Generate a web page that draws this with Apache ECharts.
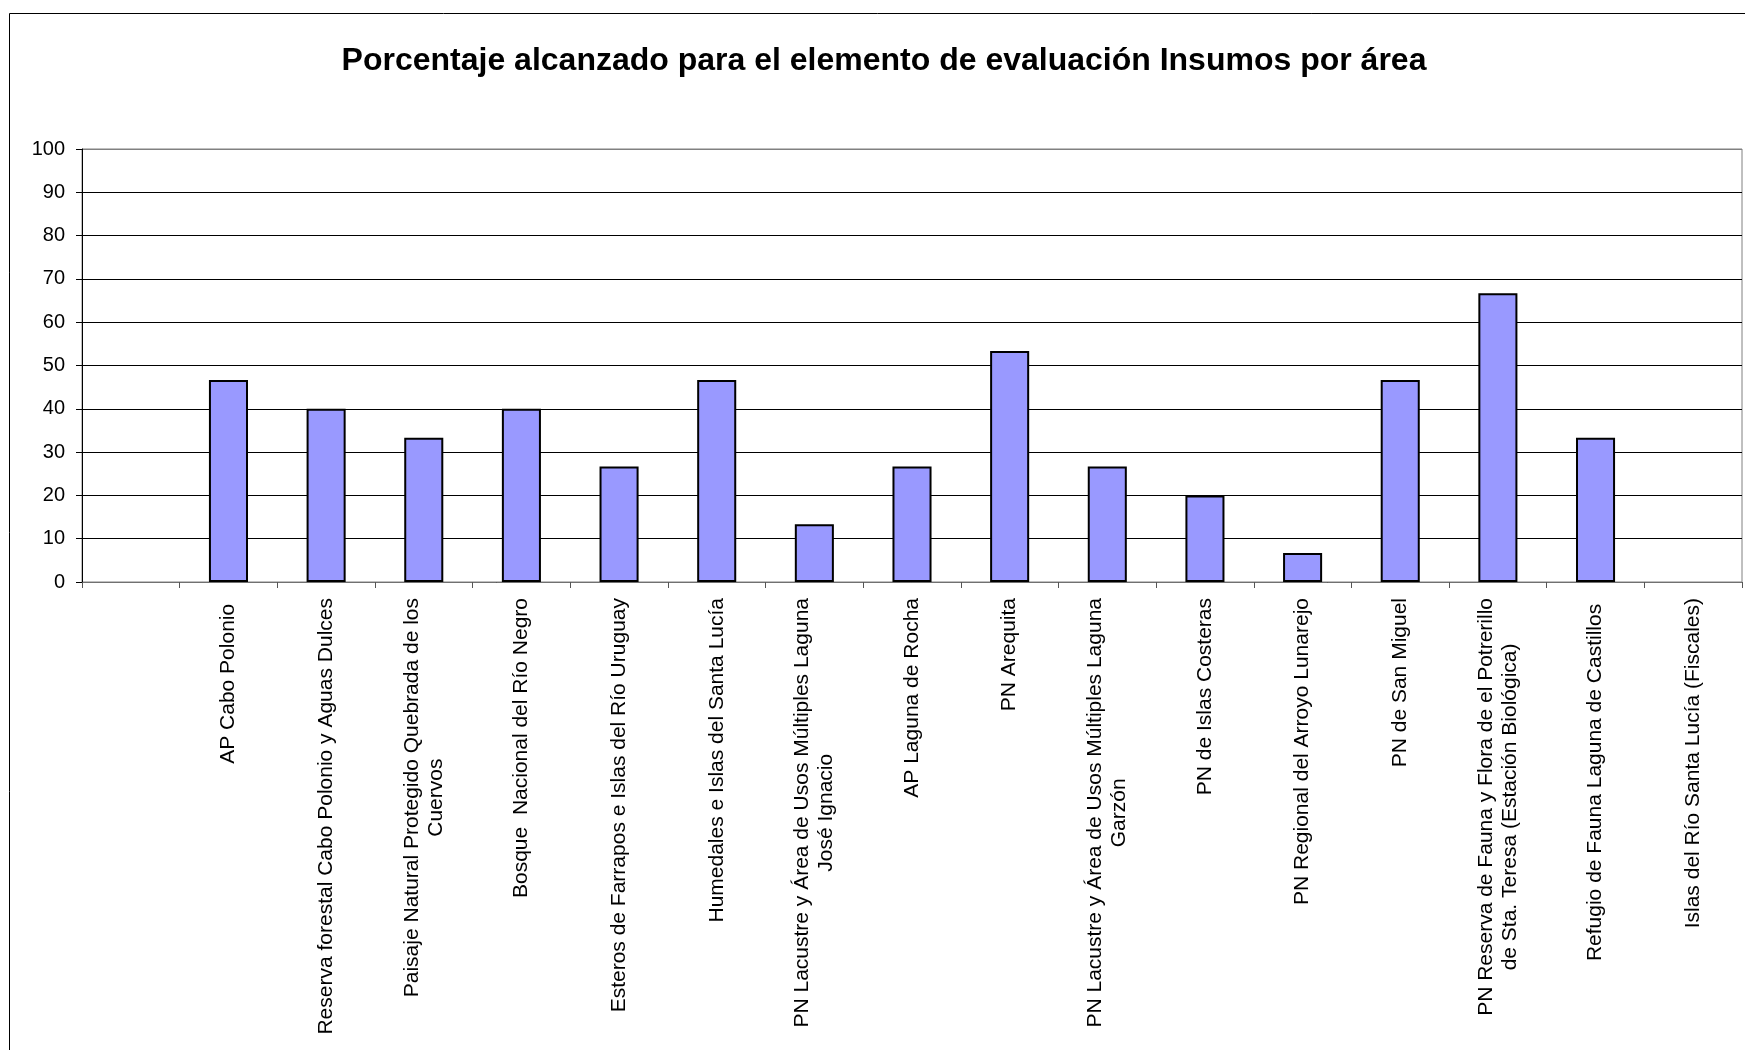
<!DOCTYPE html>
<html>
<head>
<meta charset="utf-8">
<script src="https://cdn.jsdelivr.net/npm/echarts@6/dist/echarts.min.js"></script>
<style>
  html, body { margin: 0; padding: 0; background: #fff; }
  #chart { width: 1745px; height: 1050px; }
</style>
</head>
<body>
<div id="chart"></div>
<script>
// categorías (la primera está vacía en el original)
const categories = [
  '',
  'AP Cabo Polonio ',
  'Reserva forestal Cabo Polonio y Aguas Dulces',
  'Paisaje Natural Protegido Quebrada de los\nCuervos',
  'Bosque  Nacional del Río Negro',
  'Esteros de Farrapos e Islas del Río Uruguay',
  'Humedales e Islas del Santa Lucía',
  'PN Lacustre y Área de Usos Múltiples Laguna\nJosé Ignacio',
  'AP Laguna de Rocha',
  'PN Arequita',
  'PN Lacustre y Área de Usos Múltiples Laguna\nGarzón',
  'PN de Islas Costeras',
  'PN Regional del Arroyo Lunarejo',
  'PN de San Miguel',
  'PN Reserva de Fauna y Flora de el Potrerillo\nde Sta. Teresa (Estación Biológica)',
  'Refugio de Fauna Laguna de Castillos ',
  'Islas del Río Santa Lucía (Fiscales)'
]

// porcentaje alcanzado
const values = [null, 46.67, 40, 33.33, 40, 26.67, 46.67, 13.33, 26.67, 53.33, 26.67, 20, 6.67, 46.67, 66.67, 33.33, 0]

const yTicks = { min: 0, max: 100, interval: 10 }

const titleText = 'Porcentaje alcanzado para el elemento de evaluación Insumos por área'
const font = '"Liberation Sans", Arial, sans-serif'

const chart = echarts.init(document.getElementById('chart'))

// colores de las líneas de división: la de 100 es el borde gris del área
const splitColors = []
for (let v = yTicks.min; v <= yTicks.max; v += yTicks.interval) {
  splitColors.push(v === yTicks.max ? '#808080' : '#000')
}

// una barra en cero no se dibuja en el original (sin borde)
const barData = values.map(v => v === 0 ? { value: v, itemStyle: { borderWidth: 0 } } : v)

const option = {
  animation: false,
  backgroundColor: '#fff',
  title: {
    text: titleText,
    left: 884,
    textAlign: 'center',
    top: 45,
    padding: 0,
    textStyle: {
      fontFamily: font,
      fontSize: 32,
      fontWeight: 'bold',
      color: '#000'
    }
  },
  graphic: [{
    type: 'rect',
    left: 7,
    top: 11,
    shape: { width: 1800, height: 1100 },
    style: { fill: 'none', stroke: '#000', lineWidth: 1 },
    silent: true
  }],
  grid: {
    left: 82,
    right: 3,
    top: 149,
    bottom: 468,
    show: true,
    borderColor: '#808080',
    borderWidth: 1,
    backgroundColor: 'transparent'
  },
  xAxis: {
    type: 'category',
    data: categories,
    axisLine: { lineStyle: { color: '#707070', width: 1 } },
    axisTick: { show: true, length: 6, lineStyle: { color: '#555' } },
    axisLabel: {
      interval: 0,
      rotate: 90,
      margin: 16,
      formatter: (v) => v ? v.split('\n').map(s => '{c|' + s + '}').join('\n') : '',
      rich: {
        c: {
          align: 'center',
          fontFamily: font,
          fontSize: 21,
          lineHeight: 24,
          color: '#000'
        }
      }
    },
    splitLine: { show: false }
  },
  yAxis: {
    type: 'value',
    min: yTicks.min,
    max: yTicks.max,
    interval: yTicks.interval,
    axisLine: { show: true, lineStyle: { color: '#000', width: 1 } },
    axisTick: { show: true, length: 6, lineStyle: { color: '#000' } },
    axisLabel: {
      margin: 17,
      fontFamily: font,
      fontSize: 20,
      color: '#000'
    },
    splitLine: { show: true, lineStyle: { color: splitColors, width: 1 } }
  },
  series: [{
    type: 'bar',
    data: barData,
    barCategoryGap: '60%',
    itemStyle: {
      color: '#9999FF',
      borderColor: '#000',
      borderWidth: 2
    }
  }]
}

chart.setOption(option)
</script>
</body>
</html>
